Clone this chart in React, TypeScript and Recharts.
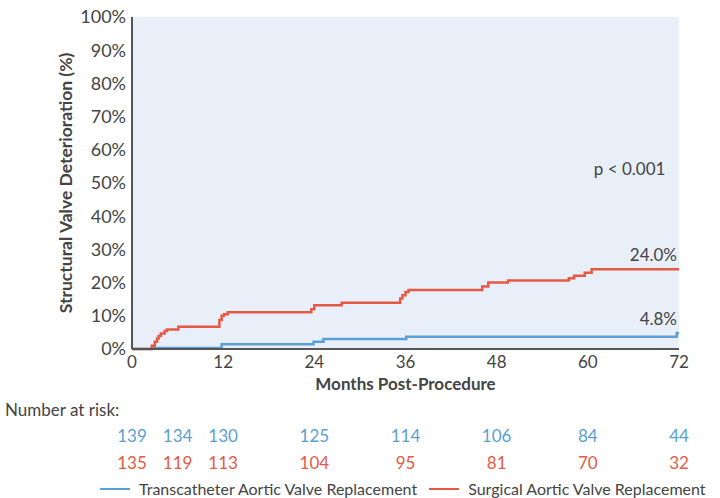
import React from 'react';
import {
  LineChart,
  Line,
  XAxis,
  YAxis,
  CartesianGrid,
  ReferenceDot,
  Legend,
} from 'recharts';

// Kaplan-Meier style cumulative incidence (%)
const savrMonths = [0, 2.6, 3.0, 3.3, 3.5, 3.8, 4.3, 4.6, 6.1, 11.5, 11.8, 12.1, 12.6, 23.6, 24.0, 27.6, 35.3, 35.6, 36.0, 36.4, 46.1, 46.9, 49.5, 57.5, 58.2, 59.6, 60.5, 72];
const savrValues = [0, 1.0, 2.2, 3.2, 3.9, 4.7, 5.4, 5.9, 6.7, 8.7, 10.0, 10.5, 11.1, 12.0, 13.2, 13.9, 15.2, 16.2, 17.2, 17.8, 18.8, 20.0, 20.6, 21.3, 22.1, 23.0, 24.0, 24.0];

const tavrMonths = [0, 2.6, 11.8, 23.9, 25.2, 36.1, 71.7, 72];
const tavrValues = [0, 0.3, 1.4, 2.2, 3.0, 3.7, 4.8, 4.8];

const xTicks = [0, 12, 24, 36, 48, 60, 72];
const yTicks = [0, 10, 20, 30, 40, 50, 60, 70, 80, 90, 100];

const riskMonths = [0, 6, 12, 24, 36, 48, 60, 72];
const tavrAtRisk = [139, 134, 130, 125, 114, 106, 84, 44];
const savrAtRisk = [135, 119, 113, 104, 95, 81, 70, 32];

const seriesNames = ['Transcatheter Aortic Valve Replacement', 'Surgical Aortic Valve Replacement'];

const annotations = [
  { m: 72, v: 24.0, text: '24.0%', anchor: 'end' },
  { m: 72, v: 4.8, text: '4.8%', anchor: 'end' },
  { m: 65.5, v: 50, text: 'p < 0.001', anchor: 'middle' },
];

const TAVR_COLOR = '#5aa0d6';
const SAVR_COLOR = '#e65a44';
const AXIS_COLOR = '#555555';
const TEXT_COLOR = '#444444';
const FONT = 'Lato, "Noto Sans", sans-serif';

const savrData = savrMonths.map((m, i) => ({ m, v: savrValues[i] }));
const tavrData = tavrMonths.map((m, i) => ({ m, v: tavrValues[i] }));
const riskData = riskMonths.map((m) => ({ m, v: 0 }));

const LegendContent = (props: any) => {
  const payload = (props.payload || [])
    .filter((p: any) => seriesNames.includes(p.value))
    .sort((a: any, b: any) => seriesNames.indexOf(a.value) - seriesNames.indexOf(b.value));
  return (
    <div
      style={{
        display: 'flex',
        justifyContent: 'flex-start',
        paddingLeft: 100,
        height: 20,
        lineHeight: '20px',
        fontFamily: FONT,
        fontSize: 16,
        color: TEXT_COLOR,
        whiteSpace: 'nowrap',
      }}
    >
      {payload.map((p: any, i: number) => (
        <div
          key={i}
          style={{ display: 'flex', alignItems: 'center', flexShrink: 0, marginRight: i === 0 ? 12 : 0 }}
        >
          <div style={{ width: 30, height: 2, background: p.color, marginRight: 9 }} />
          <span>{p.value}</span>
        </div>
      ))}
    </div>
  );
};

export default function App() {
  return (
    <div style={{ position: 'absolute', left: 0, top: 0, width: 720, height: 498, background: '#fff' }}>
      <LineChart width={720} height={498} margin={{ top: 17, right: 41, left: 0, bottom: 0 }}>
        <CartesianGrid horizontal={false} vertical={false} fill="#e9eff8" stroke="none" xAxisId="main" />
        <XAxis
          xAxisId="main"
          dataKey="m"
          type="number"
          domain={[0, 72]}
          ticks={xTicks}
          height={45}
          tickSize={0}
          tickMargin={7}
          tickLine={false}
          axisLine={{ stroke: AXIS_COLOR, strokeWidth: 2 }}
          tick={{ fill: TEXT_COLOR, fontSize: 17, fontFamily: FONT }}
          label={{
            value: 'Months Post-Procedure',
            position: 'insideBottom',
            offset: 4,
            fill: TEXT_COLOR,
            fontSize: 17,
            fontWeight: 'bold',
            fontFamily: FONT,
          }}
          allowDataOverflow
        />
        <XAxis
          xAxisId="r1"
          dataKey="m"
          type="number"
          domain={[0, 72]}
          ticks={riskMonths}
          height={56}
          tickSize={0}
          tickMargin={36}
          tickLine={false}
          axisLine={false}
          interval={0}
          tickFormatter={(v: number) => String(tavrAtRisk[riskMonths.indexOf(v)])}
          tick={{ fill: TAVR_COLOR, fontSize: 17, fontFamily: FONT }}
          label={{
            content: (p: any) => (
              <text
                x={p.viewBox.x - 127}
                y={p.viewBox.y + 22}
                fill={TEXT_COLOR}
                fontSize={17}
                fontFamily={FONT}
              >
                Number at risk:
              </text>
            ),
          }}
        />
        <XAxis
          xAxisId="r2"
          dataKey="m"
          type="number"
          domain={[0, 72]}
          ticks={riskMonths}
          height={28}
          tickSize={0}
          tickMargin={7}
          tickLine={false}
          axisLine={false}
          interval={0}
          tickFormatter={(v: number) => String(savrAtRisk[riskMonths.indexOf(v)])}
          tick={{ fill: SAVR_COLOR, fontSize: 17, fontFamily: FONT }}
        />
        <YAxis
          type="number"
          domain={[0, 100]}
          ticks={yTicks}
          width={132}
          tickSize={0}
          tickMargin={6}
          tickLine={false}
          interval={0}
          axisLine={{ stroke: AXIS_COLOR, strokeWidth: 2 }}
          tickFormatter={(v: number) => `${v}%`}
          tick={{ fill: TEXT_COLOR, fontSize: 18, fontFamily: FONT }}
          label={{
            value: 'Structural Valve Deterioration (%)',
            angle: -90,
            position: 'insideLeft',
            offset: 66,
            style: { textAnchor: 'middle' },
            fill: TEXT_COLOR,
            fontSize: 17.5,
            fontWeight: 'bold',
            fontFamily: FONT,
          }}
        />
        <Line
          xAxisId="r1"
          data={riskData}
          dataKey="v"
          stroke="none"
          dot={false}
          activeDot={false}
          legendType="none"
          isAnimationActive={false}
        />
        <Line
          xAxisId="r2"
          data={riskData}
          dataKey="v"
          stroke="none"
          dot={false}
          activeDot={false}
          legendType="none"
          isAnimationActive={false}
        />
        <Line
          xAxisId="main"
          data={tavrData}
          dataKey="v"
          name={seriesNames[0]}
          type="stepAfter"
          stroke={TAVR_COLOR}
          strokeWidth={2.5}
          dot={false}
          activeDot={false}
          isAnimationActive={false}
        />
        <Line
          xAxisId="main"
          data={savrData}
          dataKey="v"
          name={seriesNames[1]}
          type="stepAfter"
          stroke={SAVR_COLOR}
          strokeWidth={2.5}
          dot={false}
          activeDot={false}
          isAnimationActive={false}
        />
        {annotations.map((a, i) => (
          <ReferenceDot
            key={i}
            xAxisId="main"
            x={a.m}
            y={a.v}
            r={0}
            fill="none"
            stroke="none"
            label={{
              content: (p: any) => (
                <text
                  x={p.viewBox.x - (a.anchor === 'end' ? 2 : 0)}
                  y={p.viewBox.y - 8}
                  textAnchor={a.anchor}
                  fill={TEXT_COLOR}
                  fontSize={17}
                  fontFamily={FONT}
                >
                  {a.text}
                </text>
              ),
            }}
          />
        ))}
        <Legend verticalAlign="bottom" content={LegendContent} wrapperStyle={{ left: 0, width: 720, bottom: -1 }} />
      </LineChart>
    </div>
  );
}
